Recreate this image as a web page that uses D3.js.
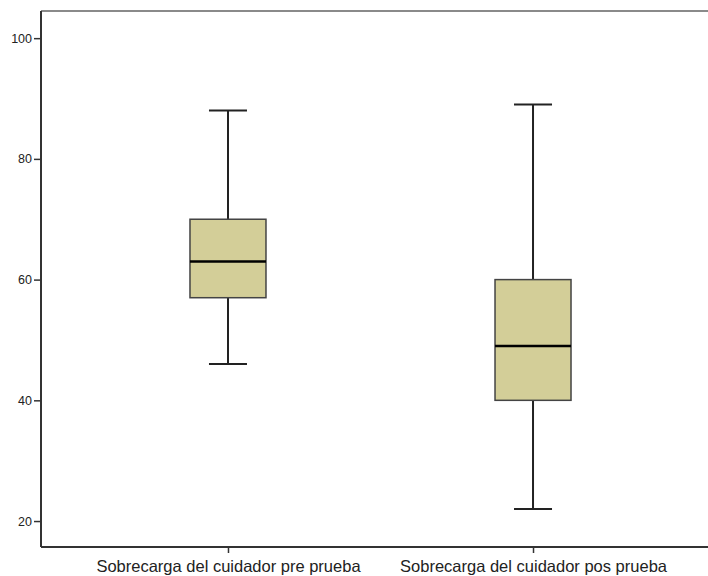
<!DOCTYPE html>
<html>
<head>
<meta charset="utf-8">
<script src="https://cdn.jsdelivr.net/npm/d3@7"></script>
<style>
  body { margin: 0; background: #fff; }
  text { font-family: "Liberation Sans", Arial, sans-serif; }
</style>
</head>
<body>
<svg id="chart" width="708" height="576"></svg>
<script>
// box plot summaries
var categories = ["Sobrecarga del cuidador pre prueba", "Sobrecarga del cuidador pos prueba"];
var minValues    = [46, 22];
var q1Values     = [57, 40];
var medianValues = [63, 49];
var q3Values     = [70, 60];
var maxValues    = [88, 89];
var yTicks = [20, 40, 60, 80, 100];

var svg = d3.select("#chart");
var plotLeft = 41, plotTop = 11, plotBottom = 547;

var y = d3.scaleLinear().domain([15.7, 104.5]).range([plotBottom, plotTop]);
var x = d3.scalePoint().domain(categories).range([plotLeft, 720]).padding(0.613);

var boxW = 76, capW = 38;

var data = categories.map(function(c, i) {
  return { cat: c, min: minValues[i], q1: q1Values[i], med: medianValues[i], q3: q3Values[i], max: maxValues[i] };
});

// frame: top line (grey)
svg.append("line")
  .attr("x1", plotLeft).attr("x2", 708).attr("y1", plotTop).attr("y2", plotTop)
  .attr("stroke", "#8a8a8a").attr("stroke-width", 2);

// boxes
var g = svg.selectAll(".box").data(data).enter().append("g").attr("class", "box");

g.append("line")
  .attr("x1", function(d){ return x(d.cat); })
  .attr("x2", function(d){ return x(d.cat); })
  .attr("y1", function(d){ return y(d.max); })
  .attr("y2", function(d){ return y(d.min); })
  .attr("stroke", "#222").attr("stroke-width", 2);

g.append("line").attr("class", "cap")
  .attr("x1", function(d){ return x(d.cat) - capW / 2; })
  .attr("x2", function(d){ return x(d.cat) + capW / 2; })
  .attr("y1", function(d){ return y(d.max); })
  .attr("y2", function(d){ return y(d.max); })
  .attr("stroke", "#222").attr("stroke-width", 2);

g.append("line").attr("class", "cap")
  .attr("x1", function(d){ return x(d.cat) - capW / 2; })
  .attr("x2", function(d){ return x(d.cat) + capW / 2; })
  .attr("y1", function(d){ return y(d.min); })
  .attr("y2", function(d){ return y(d.min); })
  .attr("stroke", "#222").attr("stroke-width", 2);

g.append("rect")
  .attr("x", function(d){ return x(d.cat) - boxW / 2; })
  .attr("width", boxW)
  .attr("y", function(d){ return y(d.q3); })
  .attr("height", function(d){ return y(d.q1) - y(d.q3); })
  .attr("fill", "#d3ce98").attr("stroke", "#444").attr("stroke-width", 1.5);

g.append("line")
  .attr("x1", function(d){ return x(d.cat) - boxW / 2; })
  .attr("x2", function(d){ return x(d.cat) + boxW / 2; })
  .attr("y1", function(d){ return y(d.med); })
  .attr("y2", function(d){ return y(d.med); })
  .attr("stroke", "#000").attr("stroke-width", 2.5);

// y axis
var yAxis = svg.append("g")
  .attr("transform", "translate(" + plotLeft + ",0)")
  .call(d3.axisLeft(y).tickValues(yTicks).tickSize(7).tickPadding(2).tickSizeOuter(0));
yAxis.select(".domain").attr("stroke", "#333").attr("stroke-width", 2)
  .attr("d", "M0," + plotTop + "V" + plotBottom);
yAxis.selectAll(".tick line").attr("stroke", "#333").attr("stroke-width", 1.5);
yAxis.selectAll(".tick text").attr("font-size", 12.5).attr("fill", "#222")
  .attr("font-family", "Liberation Sans, Arial, sans-serif");

// x axis
var xAxis = svg.append("g")
  .attr("transform", "translate(0," + plotBottom + ")")
  .call(d3.axisBottom(x).tickSize(6).tickPadding(7).tickSizeOuter(0));
xAxis.select(".domain").attr("stroke", "#333").attr("stroke-width", 2)
  .attr("d", "M" + plotLeft + ",0H708");
xAxis.selectAll(".tick line").attr("stroke", "#333").attr("stroke-width", 1.5);
xAxis.selectAll(".tick text").attr("font-size", 16.5).attr("fill", "#222")
  .attr("font-family", "Liberation Sans, Arial, sans-serif");
</script>
</body>
</html>
